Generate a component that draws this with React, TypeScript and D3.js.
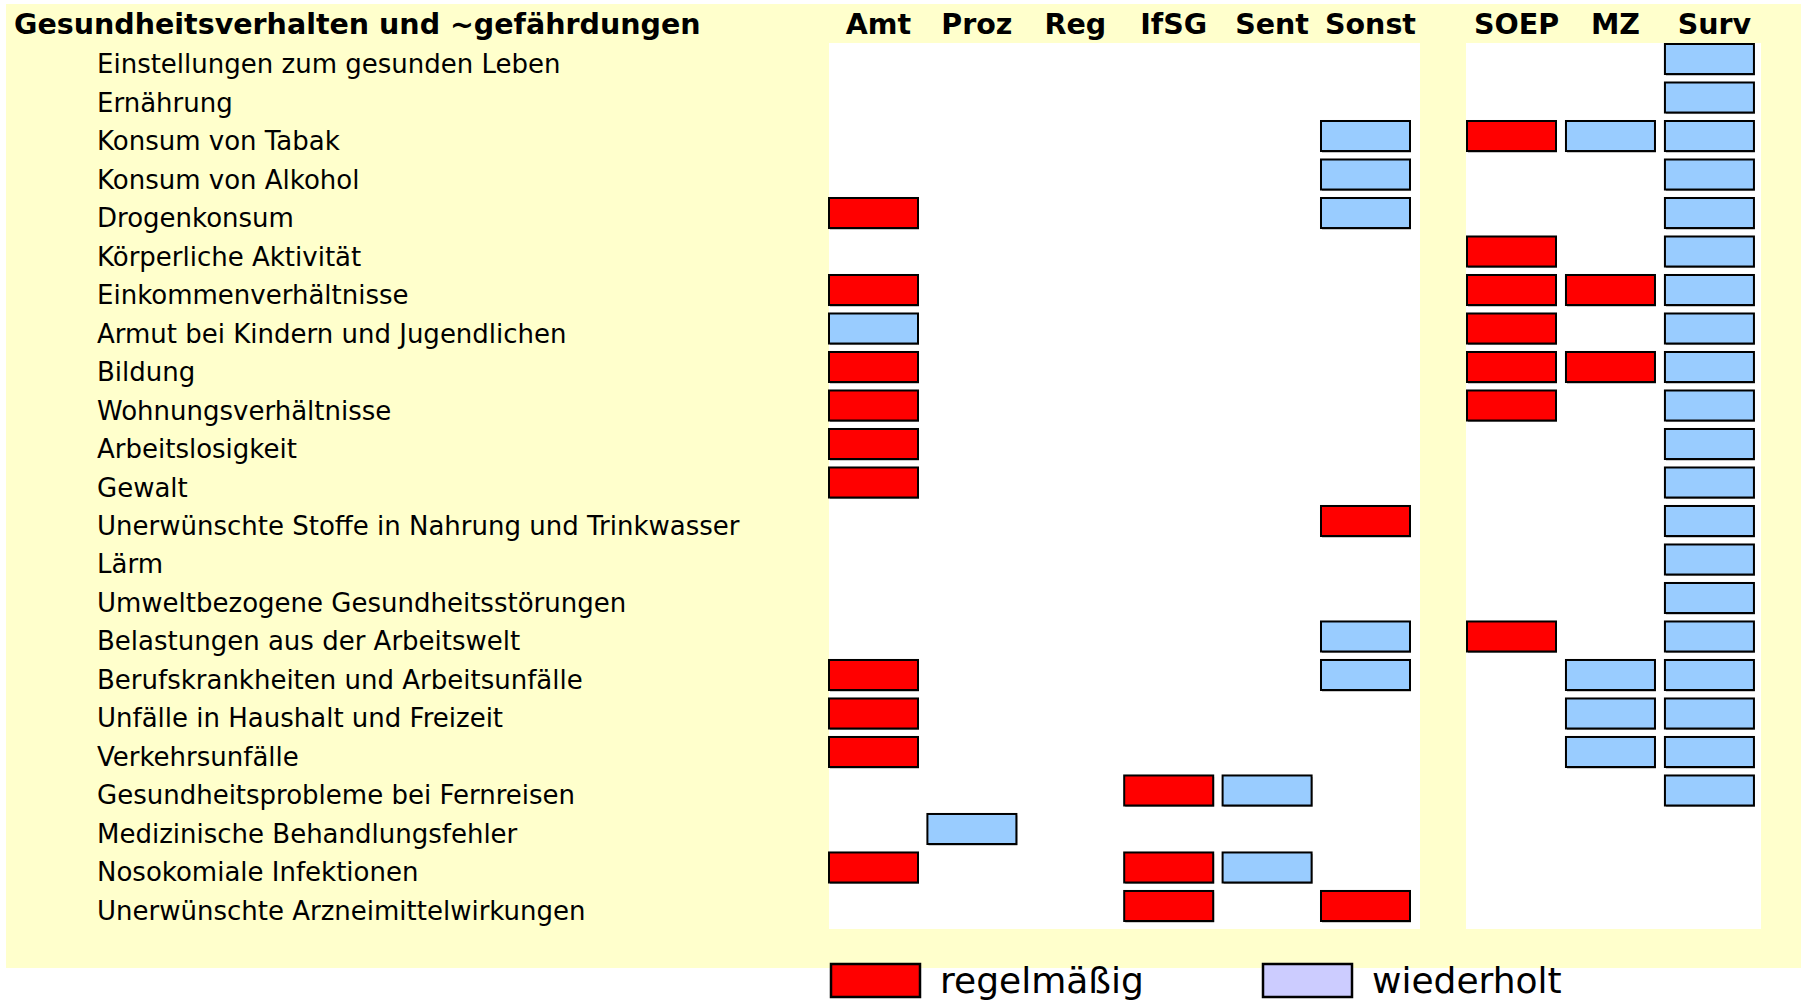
import * as d3 from 'd3';

// Daten: Themen (Zeilen) und Datenquellen (Spalten)
const title = 'Gesundheitsverhalten und ~gefährdungen';

const topics = [
  'Einstellungen zum gesunden Leben',
  'Ernährung',
  'Konsum von Tabak',
  'Konsum von Alkohol',
  'Drogenkonsum',
  'Körperliche Aktivität',
  'Einkommenverhältnisse',
  'Armut bei Kindern und Jugendlichen',
  'Bildung',
  'Wohnungsverhältnisse',
  'Arbeitslosigkeit',
  'Gewalt',
  'Unerwünschte Stoffe in Nahrung und Trinkwasser',
  'Lärm',
  'Umweltbezogene Gesundheitsstörungen',
  'Belastungen aus der Arbeitswelt',
  'Berufskrankheiten und Arbeitsunfälle',
  'Unfälle in Haushalt und Freizeit',
  'Verkehrsunfälle',
  'Gesundheitsprobleme bei Fernreisen',
  'Medizinische Behandlungsfehler',
  'Nosokomiale Infektionen',
  'Unerwünschte Arzneimittelwirkungen',
];

const officialSources = ['Amt', 'Proz', 'Reg', 'IfSG', 'Sent', 'Sonst'];
const surveySources = ['SOEP', 'MZ', 'Surv'];

// ein Zeichen pro Quelle (Amt Proz Reg IfSG Sent Sonst SOEP MZ Surv)
// r = regelmäßig, w = wiederholt, . = keine Daten
const coverage = [
  '........w',
  '........w',
  '.....wrww',
  '.....w..w',
  'r....w..w',
  '......r.w',
  'r.....rrw',
  'w.....r.w',
  'r.....rrw',
  'r.....r.w',
  'r.......w',
  'r.......w',
  '.....r..w',
  '........w',
  '........w',
  '.....wr.w',
  'r....w.ww',
  'r......ww',
  'r......ww',
  '...rw...w',
  '.w.......',
  'r..rw....',
  '...r.r...',
];

const legendKeys = ['r', 'w'];
const legendLabels = ['regelmäßig', 'wiederholt'];

const barColor: Record<string, string> = { r: '#FF0000', w: '#99CCFF' };
const legendColor: Record<string, string> = { r: '#FF0000', w: '#CCCCFF' };

const W = 1801;
const H = 1001;
const font = '"DejaVu Sans", Verdana, sans-serif';

export default function App() {
  const y = d3.scaleBand<string>()
    .domain(topics)
    .range([44, 921])
    .paddingInner(0.22)
    .paddingOuter(0);

  const xOfficial = d3.scaleBand<string>()
    .domain(officialSources)
    .range([829, 1410])
    .paddingInner(0.0955)
    .paddingOuter(0);

  const xSurvey = d3.scaleBand<string>()
    .domain(surveySources)
    .range([1467, 1754])
    .paddingInner(0.1)
    .paddingOuter(0);

  const allSources = [...officialSources, ...surveySources];
  const xOf = (s: string) =>
    officialSources.includes(s) ? xOfficial(s)! : xSurvey(s)!;
  const bw = xOfficial.bandwidth();
  const bh = y.bandwidth();

  const cells: { topic: string; source: string; code: string }[] = [];
  topics.forEach((t, i) => {
    coverage[i].split('').forEach((c, j) => {
      if (c !== '.') cells.push({ topic: t, source: allSources[j], code: c });
    });
  });

  const legendX = d3.scalePoint<string>().domain(legendKeys).range([831, 1263]);

  return (
    <svg width={W} height={H} style={{ position: 'absolute', left: 0, top: 0, display: 'block' }}
      fontFamily={font}>
      <rect x={0} y={0} width={W} height={H} fill="#fff" />
      <rect x={6} y={4} width={W - 6} height={964} fill="#FFFFCC" />

      {/* weiße Felder */}
      <rect x={829} y={43} width={591} height={886} fill="#fff" />
      <rect x={1466} y={43} width={295} height={886} fill="#fff" />

      <text x={14} y={34} fontSize={28.5} fontWeight="bold" fill="#000">{title}</text>

      {allSources.map(s => (
        <text key={s} x={xOf(s) + bw / 2 + 5} y={34} fontSize={28.5} fontWeight="bold"
          textAnchor="middle" fill="#000">{s}</text>
      ))}

      {topics.map(t => (
        <text key={t} x={97} y={y(t)! + bh / 2 + 14} fontSize={26} fill="#000">{t}</text>
      ))}

      {cells.map((c, i) => (
        <g key={i}>
          <rect x={xOf(c.source) + 1} y={y(c.topic)! + 1.5} width={bw} height={bh}
            fill="#9a9a9a" />
          <rect x={xOf(c.source)} y={y(c.topic)!} width={bw} height={bh}
            fill={barColor[c.code]} stroke="#000" strokeWidth={2} />
        </g>
      ))}

      {legendKeys.map((k, i) => (
        <g key={k}>
          <rect x={legendX(k)!} y={964} width={89} height={33} fill={legendColor[k]}
            stroke="#000" strokeWidth={2.5} />
          <text x={legendX(k)! + 109} y={993} fontSize={36} fill="#000">{legendLabels[i]}</text>
        </g>
      ))}
    </svg>
  );
}
